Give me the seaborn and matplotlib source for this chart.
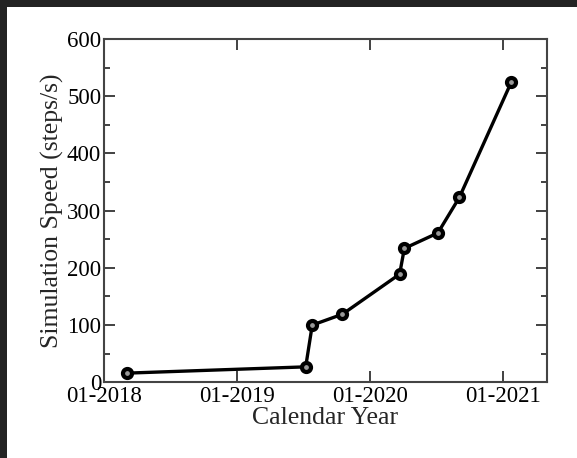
import pandas as pd
import matplotlib
matplotlib.use("Agg")
import matplotlib.pyplot as plt
import matplotlib.dates as mdates
from matplotlib.patches import Rectangle
from matplotlib.ticker import MultipleLocator
import seaborn as sns

# values
dates = ["2018-03-04", "2019-07-09", "2019-07-27", "2019-10-18", "2020-03-23",
         "2020-04-05", "2020-07-06", "2020-09-03", "2021-01-24"]
speed = [16, 27, 100, 119, 189, 234, 261, 323, 525]
year_ticks = ["2018-01-01", "2019-01-01", "2020-01-01", "2021-01-01"]

df = pd.DataFrame({"date": pd.to_datetime(dates), "speed": speed})

sns.set_theme(style="ticks")
plt.rcParams['font.family'] = ['Liberation Serif', 'DejaVu Serif']

fig = plt.figure(figsize=(5.77, 4.58), dpi=100)
fig.patch.set_facecolor("white")
# dark frame on top and left edge of the screenshot
fig.patches.append(Rectangle((0, 1 - 7 / 458), 1, 7 / 458, transform=fig.transFigure,
                             facecolor="#232323", edgecolor="none", zorder=10))
fig.patches.append(Rectangle((0, 0), 7 / 577, 1, transform=fig.transFigure,
                             facecolor="#232323", edgecolor="none", zorder=10))

ax = fig.add_axes([104 / 577, 1 - 382.3 / 458, (546.7 - 104) / 577, (382.3 - 39) / 458])
sns.lineplot(data=df, x="date", y="speed", ax=ax, color="black", linewidth=2.4,
             marker="o", markersize=6.5, markerfacecolor="#999999",
             markeredgecolor="black", markeredgewidth=3)

ax.set_xlim(pd.Timestamp("2018-01-01"), pd.Timestamp("2021-05-01"))
ax.set_ylim(0, 600)
ax.set_xticks(pd.to_datetime(year_ticks))
ax.xaxis.set_major_formatter(mdates.DateFormatter("%m-%Y"))
ax.yaxis.set_major_locator(MultipleLocator(100))
ax.yaxis.set_minor_locator(MultipleLocator(50))

ax.tick_params(which="both", direction="in", top=True, right=True,
               colors="#333333", labelcolor="black", labelsize=16.5, width=1.3)
ax.tick_params(which="major", length=8)
ax.tick_params(which="minor", length=4)
ax.tick_params(axis="y", pad=2)
ax.tick_params(axis="x", pad=3)
for s in ax.spines.values():
    s.set_color("#444444")
    s.set_linewidth(1.5)

ax.set_xlabel("Calendar Year", fontsize=18.5, labelpad=0)
ax.set_ylabel("Simulation Speed (steps/s)", fontsize=18.5, labelpad=2)

fig.savefig("out.png", dpi=100)
